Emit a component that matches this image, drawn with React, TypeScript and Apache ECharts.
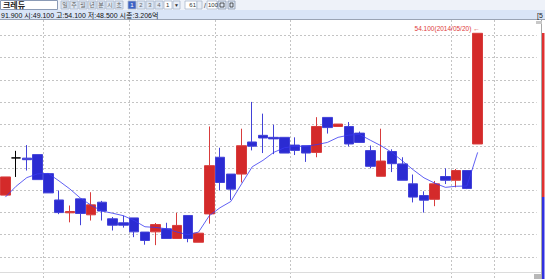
import React, { useEffect, useRef } from 'react';
import * as echarts from 'echarts';

// ---- data ----
const dates: string[] = [
  '2014/03/14', '2014/03/17', '2014/03/18', '2014/03/19', '2014/03/20', '2014/03/21', '2014/03/24', '2014/03/25',
  '2014/03/26', '2014/03/27', '2014/03/28', '2014/03/31', '2014/04/01', '2014/04/02', '2014/04/03', '2014/04/04',
  '2014/04/07', '2014/04/08', '2014/04/09', '2014/04/10', '2014/04/11', '2014/04/14', '2014/04/15', '2014/04/16',
  '2014/04/17', '2014/04/18', '2014/04/21', '2014/04/22', '2014/04/23', '2014/04/24', '2014/04/25', '2014/04/28',
  '2014/04/29', '2014/04/30', '2014/05/02', '2014/05/07', '2014/05/08', '2014/05/09', '2014/05/12', '2014/05/13',
  '2014/05/14', '2014/05/15', '2014/05/16', '2014/05/19', '2014/05/20',
];
const emptySlots: string[] = ['', '', '', '', ''];

// [open, close, low, high]
const ohlc: number[][] = [
  [46.79, 47.61, 46.79, 47.61],
  [48.47, 48.47, 47.61, 48.79],
  [48.46, 48.39, 47.90, 49.05],
  [48.62, 47.49, 47.49, 48.62],
  [47.76, 46.89, 46.89, 47.76],
  [46.57, 46.00, 45.93, 47.00],
  [45.99, 46.05, 45.56, 46.32],
  [46.62, 45.96, 45.43, 46.62],
  [45.90, 46.35, 45.64, 46.92],
  [46.47, 46.07, 45.64, 46.53],
  [45.72, 45.43, 45.19, 45.80],
  [45.54, 45.43, 45.32, 45.86],
  [45.76, 45.13, 44.89, 45.76],
  [45.12, 44.74, 44.55, 45.12],
  [45.13, 45.46, 44.53, 45.53],
  [45.27, 44.83, 44.83, 45.54],
  [44.83, 45.42, 44.83, 45.99],
  [45.87, 44.83, 44.66, 45.87],
  [44.66, 45.07, 44.66, 45.07],
  [45.94, 48.12, 45.50, 49.89],
  [48.50, 47.36, 47.00, 48.93],
  [47.74, 47.06, 46.57, 47.74],
  [47.74, 49.02, 47.36, 49.79],
  [49.19, 49.00, 48.81, 51.00],
  [49.49, 49.37, 48.69, 50.47],
  [49.40, 49.33, 48.64, 49.97],
  [49.40, 48.69, 48.69, 49.40],
  [49.05, 48.81, 48.60, 49.40],
  [49.02, 48.69, 48.29, 49.02],
  [48.72, 49.89, 48.50, 50.31],
  [50.30, 49.84, 49.57, 50.30],
  [49.89, 50.00, 49.89, 50.00],
  [49.89, 49.10, 48.99, 50.09],
  [49.59, 49.17, 49.17, 49.66],
  [48.80, 48.09, 48.00, 49.03],
  [47.64, 48.33, 47.64, 49.79],
  [48.76, 48.21, 47.83, 48.86],
  [48.20, 47.46, 47.46, 48.50],
  [47.30, 46.70, 46.46, 47.72],
  [46.77, 46.56, 46.00, 46.96],
  [46.60, 47.30, 46.29, 47.43],
  [47.63, 47.46, 47.29, 48.00],
  [47.46, 47.90, 47.14, 47.97],
  [47.90, 47.09, 47.06, 47.90],
  [49.10, 54.10, 49.10, 54.10],
];

const ma: number[] = [
  46.70, 47.19, 47.58, 47.75, 47.77, 47.43, 47.07, 46.65, 46.33, 46.07,
  45.97, 45.86, 45.64, 45.36, 45.33, 45.27, 45.12, 45.00, 45.12, 45.86,
  46.22, 46.50, 47.29, 48.07, 48.36, 48.72, 48.93, 49.00, 49.00, 49.07,
  49.17, 49.40, 49.50, 49.53, 49.27, 49.02, 48.72, 48.33, 47.93, 47.57,
  47.33, 47.14, 47.19, 47.20, 48.72,
];

const flatIndex = 1; // open == close candle drawn in black
// vertical separators sit on the left boundary of these category slots
const splitIdx: number[] = [4, 12, 20, 27, 42, 46];
const yMin = 43;
const yMax = 55;
const highLabel = '54.100(2014/05/20) ←';
const infoText = '91.900 시:49.100 고:54.100 저:48.500 시총:3.206억';
const toolButtons: string[] = ['일', '주', '월', '년', '분', '시', '초'];
const numButtons: string[] = ['1', '2', '3', '4'];

const RED = '#d42a2a';
const BLUE = '#2b2bd2';
const SEP = '#c4c4c4';

export default function App() {
  const ref = useRef<HTMLDivElement>(null);

  useEffect(() => {
    document.body.style.margin = '0';
    const chart = echarts.init(ref.current!, null, { renderer: 'svg' });
    const categories = [...dates, ...emptySlots];
    const candleData = ohlc.map((v, i) =>
      i === flatIndex
        ? { value: v, itemStyle: { color: '#000', color0: '#000', borderColor: '#000', borderColor0: '#000' } }
        : v
    );
    const font = 'Liberation Sans, Noto Sans CJK KR, sans-serif';

    const graphics: any[] = [
      { type: 'rect', shape: { x: 0, y: 0, width: 545, height: 10 }, style: { fill: '#eef2f9' }, z: 100 },
      { type: 'rect', shape: { x: 0, y: 10, width: 545, height: 9.5 }, style: { fill: '#d9e5f7' }, z: 100 },
      { type: 'line', shape: { x1: 0, y1: 19.5, x2: 545, y2: 19.5 }, style: { stroke: '#9aa4b4', lineWidth: 1 }, z: 101 },
      { type: 'rect', shape: { x: 0.5, y: 0.5, width: 57, height: 9 }, style: { fill: '#fff', stroke: '#8b9bb6', lineWidth: 1 }, z: 101 },
      { type: 'text', x: 3, y: 5.5, style: { text: '크레듀', font: `bold 8px ${font}`, fill: '#222', verticalAlign: 'middle' }, z: 102 },
      { type: 'text', x: 1, y: 15, style: { text: infoText, font: `7px ${font}`, fill: '#111', verticalAlign: 'middle' }, z: 102 },
      { type: 'rect', shape: { x: 541, y: 20, width: 1, height: 259 }, style: { fill: '#a8a8a8' }, z: 50 },
      { type: 'rect', shape: { x: 542, y: 33, width: 2.5, height: 164 }, style: { fill: '#e03030' }, z: 51 },
      { type: 'rect', shape: { x: 542, y: 197, width: 2.5, height: 82 }, style: { fill: '#3030e0' }, z: 51 },
      { type: 'line', shape: { x1: 0, y1: 272.5, x2: 541, y2: 272.5 }, style: { stroke: '#dcdcdc', lineWidth: 1 }, z: 50 },
      { type: 'rect', shape: { x: 534, y: 274, width: 7, height: 5 }, style: { fill: '#b8b8b8' }, z: 51 },
      { type: 'rect', shape: { x: 536, y: 21, width: 6, height: 3 }, style: { fill: '#c8c8c8' }, z: 51 },
      { type: 'text', x: 537, y: 15, style: { text: '[5', font: `7px ${font}`, fill: '#222', verticalAlign: 'middle' }, z: 102 },
    ];
    toolButtons.forEach((t, i) => {
      const x = 61 + i * 9;
      graphics.push({ type: 'rect', shape: { x, y: 1, width: 8, height: 8 }, style: { fill: '#dde6f3', stroke: '#a9b7cc', lineWidth: 0.8 }, z: 101 });
      graphics.push({ type: 'text', x: x + 4, y: 5.2, style: { text: t, font: `6px ${font}`, fill: '#666', align: 'center', verticalAlign: 'middle' }, z: 102 });
    });
    numButtons.forEach((t, i) => {
      const x = 128 + i * 9;
      const sel = i === 0;
      graphics.push({ type: 'rect', shape: { x, y: 1, width: 8, height: 8 }, style: { fill: sel ? '#3e63c4' : '#dde6f3', stroke: '#a9b7cc', lineWidth: 0.8 }, z: 101 });
      graphics.push({ type: 'text', x: x + 4, y: 5.2, style: { text: t, font: `6px ${font}`, fill: sel ? '#fff' : '#666', align: 'center', verticalAlign: 'middle' }, z: 102 });
    });
    graphics.push({ type: 'rect', shape: { x: 164, y: 1, width: 8, height: 8 }, style: { fill: '#fff', stroke: '#a9b7cc', lineWidth: 0.8 }, z: 101 });
    graphics.push({ type: 'text', x: 166, y: 5.2, style: { text: '1', font: `6px ${font}`, fill: '#333', verticalAlign: 'middle' }, z: 102 });
    graphics.push({ type: 'rect', shape: { x: 173, y: 1, width: 7, height: 8 }, style: { fill: '#e8eef7', stroke: '#a9b7cc', lineWidth: 0.8 }, z: 101 });
    graphics.push({ type: 'text', x: 176.5, y: 5.2, style: { text: '▼', font: `5px ${font}`, fill: '#333', align: 'center', verticalAlign: 'middle' }, z: 102 });
    graphics.push({ type: 'rect', shape: { x: 185, y: 1, width: 12, height: 8 }, style: { fill: '#fff', stroke: '#a9b7cc', lineWidth: 0.8 }, z: 101 });
    graphics.push({ type: 'text', x: 196, y: 5.2, style: { text: '61', font: `6px ${font}`, fill: '#333', align: 'right', verticalAlign: 'middle' }, z: 102 });
    graphics.push({ type: 'rect', shape: { x: 197, y: 1, width: 5, height: 8 }, style: { fill: '#e8eef7', stroke: '#a9b7cc', lineWidth: 0.8 }, z: 101 });
    graphics.push({ type: 'text', x: 204, y: 5.2, style: { text: '/', font: `7px ${font}`, fill: '#333', verticalAlign: 'middle' }, z: 102 });
    graphics.push({ type: 'rect', shape: { x: 207, y: 1, width: 10, height: 8 }, style: { fill: '#fff', stroke: '#a9b7cc', lineWidth: 0.8 }, z: 101 });
    graphics.push({ type: 'text', x: 208, y: 5.2, style: { text: '100', font: `6px ${font}`, fill: '#333', verticalAlign: 'middle' }, z: 102 });
    graphics.push({ type: 'rect', shape: { x: 218, y: 1, width: 8, height: 8 }, style: { fill: '#dde6f3', stroke: '#8a9ab0', lineWidth: 0.8 }, z: 101 });
    graphics.push({ type: 'rect', shape: { x: 220, y: 3, width: 4, height: 4 }, style: { fill: 'none', stroke: '#333', lineWidth: 0.8 }, z: 102 });
    graphics.push({ type: 'rect', shape: { x: 228, y: 1, width: 7, height: 8 }, style: { fill: '#dde6f3', stroke: '#8a9ab0', lineWidth: 0.8 }, z: 101 });
    graphics.push({ type: 'rect', shape: { x: 230, y: 3, width: 3, height: 4 }, style: { fill: 'none', stroke: '#333', lineWidth: 0.8 }, z: 102 });

    chart.setOption({
      animation: false,
      backgroundColor: '#ffffff',
      grid: { left: -5.57, top: 13.37, width: 542.25, height: 280, containLabel: false },
      xAxis: {
        type: 'category',
        data: categories,
        boundaryGap: true,
        axisLine: { show: false },
        axisTick: { show: false },
        axisLabel: { show: false },
        splitLine: { show: false },
      },
      yAxis: {
        type: 'value',
        position: 'right',
        min: yMin,
        max: yMax,
        interval: 1,
        axisLine: { show: false },
        axisTick: { show: false },
        axisLabel: { show: false },
        splitLine: { show: true, lineStyle: { color: SEP, width: 1, type: [2, 2] } },
      },
      series: [
        {
          type: 'candlestick',
          data: candleData,
          barWidth: 10,
          itemStyle: {
            color: RED,
            color0: BLUE,
            borderColor: '#d83c3c',
            borderColor0: '#4242d8',
            borderWidth: 1,
          },
          markPoint: {
            symbol: 'circle',
            symbolSize: 0,
            data: [{ coord: [ohlc.length - 1, ohlc[ohlc.length - 1][3]] }],
            label: {
              show: true,
              formatter: highLabel,
              position: 'left',
              distance: 0,
              offset: [2, -5],
              color: '#e03a3a',
              fontSize: 6.5,
              fontFamily: font,
            },
          },
          z: 3,
        },
        {
          type: 'line',
          data: ma,
          showSymbol: false,
          smooth: false,
          lineStyle: { color: '#3a3af0', width: 1, opacity: 0.8 },
          z: 4,
        },
      ],
      graphic: graphics,
    });

    // vertical separators: category slot boundaries from the chart's own x scale,
    // drawn as short filled dashes (rects) so they render crisply
    const c0 = chart.convertToPixel({ xAxisIndex: 0 }, 0) as number;
    const c1 = chart.convertToPixel({ xAxisIndex: 0 }, 1) as number;
    const band = c1 - c0;
    const sepGroups = splitIdx.map((b) => {
      const cx = chart.convertToPixel({ xAxisIndex: 0 }, b) as number;
      const x = Math.round(cx - band / 2);
      const dashes: any[] = [];
      for (let y = 20; y < 279; y += 4) {
        dashes.push({ type: 'rect', shape: { x, y, width: 1, height: 2 }, style: { fill: SEP } });
      }
      return { type: 'group', silent: true, z: 2, children: dashes };
    });
    chart.setOption({ graphic: [...graphics, ...sepGroups] });

    return () => chart.dispose();
  }, []);

  return <div ref={ref} style={{ width: 545, height: 279, position: 'absolute', left: 0, top: 0 }} />;
}
